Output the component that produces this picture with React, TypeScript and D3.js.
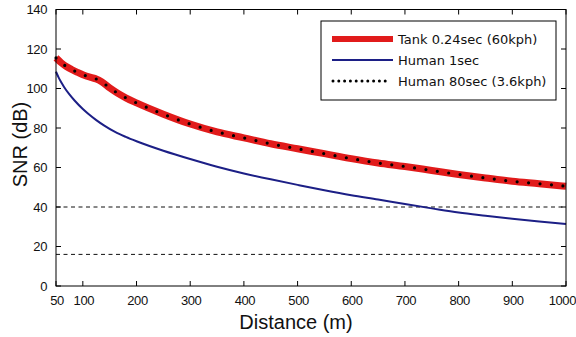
import React from "react";
import * as d3 from "d3";

// distances (m) sampled along each curve
const tankDistances = [
  50, 60, 70, 80, 90, 100, 115, 125, 135, 150, 165, 180, 200, 250, 300, 350,
  400, 450, 500, 550, 600, 650, 700, 750, 800, 850, 900, 950, 1000,
];
const tankSnr = [
  115.5, 113, 111, 109.5, 108.2, 107, 105.6, 104.8, 103.4, 100.3, 97.6, 95.3,
  92.7, 87, 82, 78, 75, 72, 69.5, 67, 64.5, 62.3, 60.5, 58.5, 56.5, 54.7, 53,
  51.8, 50.5,
];
const human80Snr = [
  115.5, 113, 111, 109.5, 108.2, 107, 105.6, 104.8, 103.4, 100.3, 97.6, 95.3,
  92.7, 87, 82, 78, 75, 72, 69.5, 67, 64.5, 62.3, 60.5, 58.5, 56.5, 54.7, 53,
  51.8, 50.5,
];
const humanDistances = [
  50, 55, 60, 65, 75, 85, 100, 110, 125, 140, 160, 180, 200, 250, 300, 350, 400,
  450, 500, 550, 600, 650, 700, 750, 800, 850, 900, 950, 1000,
];
const human1Snr = [
  108.5, 105.5, 103, 100.8, 97, 93.8, 89.6, 87.2, 84, 81.2, 78, 75.5, 73.3,
  68.5, 64.3, 60.4, 57, 54, 51.2, 48.5, 46, 43.8, 41.5, 39.3, 37.2, 35.6, 34.1,
  32.7, 31.4,
];
const thresholds = [40, 16];
const xTicks = [50, 100, 200, 300, 400, 500, 600, 700, 800, 900, 1000];
const yTicks = [0, 20, 40, 60, 80, 100, 120, 140];
const legendItems = [
  { label: "Tank 0.24sec (60kph)", kind: "tank" },
  { label: "Human 1sec", kind: "human1" },
  { label: "Human 80sec (3.6kph)", kind: "human80" },
];

const RED = "#e11b1b";
const BLUE = "#1c1f86";

export default function App() {
  const width = 576;
  const height = 337;
  const margin = { top: 9.5, right: 10, bottom: 51, left: 56 };
  const plotW = width - margin.left - margin.right;
  const plotH = height - margin.top - margin.bottom;

  const x = d3.scaleLinear().domain([50, 1000]).range([0, plotW]);
  const y = d3.scaleLinear().domain([0, 140]).range([plotH, 0]);

  const makeLine = (xs: number[]) =>
    d3
      .line<number>()
      .x((_, i) => x(xs[i]))
      .y((d) => y(d))
      .curve(d3.curveMonotoneX);

  const tankLine = makeLine(tankDistances);
  const humanLine = makeLine(humanDistances);

  const tickFont = "'Liberation Sans', Arial, sans-serif";

  return (
    <div style={{ position: "absolute", left: 0, top: 0 }}>
      <svg width={width} height={height} style={{ display: "block", background: "#fff" }}>
        <g transform={`translate(${margin.left},${margin.top})`}>
          {/* threshold lines */}
          {thresholds.map((t) => (
            <line
              key={t}
              x1={0}
              x2={plotW}
              y1={y(t)}
              y2={y(t)}
              stroke="#111"
              strokeWidth={1}
              strokeDasharray="4 3.5"
            />
          ))}

          {/* curves */}
          <path d={tankLine(tankSnr) ?? ""} fill="none" stroke={RED} strokeWidth={7} />
          <path d={humanLine(human1Snr) ?? ""} fill="none" stroke={BLUE} strokeWidth={2} />
          <path
            d={tankLine(human80Snr) ?? ""}
            fill="none"
            stroke="#000"
            strokeWidth={3.2}
            strokeLinecap="round"
            strokeDasharray="0 11.5"
          />

          {/* frame */}
          <rect x={0} y={0} width={plotW} height={plotH} fill="none" stroke="#000" strokeWidth={1} />

          {/* x ticks */}
          {xTicks.map((t, i) => {
            const last = i === xTicks.length - 1;
            return (
              <g key={t} transform={`translate(${x(t)},0)`}>
                <line y1={plotH} y2={plotH - 5} stroke="#000" />
                <line y1={0} y2={5} stroke="#000" />
                <text
                  x={last ? 10 : 1}
                  y={plotH + 19}
                  textAnchor={last ? "end" : "middle"}
                  fontFamily={tickFont}
                  fontSize={13}
                  letterSpacing={-0.4}
                  fill="#111"
                >
                  {t}
                </text>
              </g>
            );
          })}

          {/* y ticks */}
          {yTicks.map((t) => (
            <g key={t} transform={`translate(0,${y(t)})`}>
              <line x1={0} x2={5} stroke="#000" />
              <line x1={plotW} x2={plotW - 5} stroke="#000" />
              <text
                x={-9}
                dy="0.35em"
                textAnchor="end"
                fontFamily={tickFont}
                fontSize={13}
                letterSpacing={-0.4}
                fill="#111"
              >
                {t}
              </text>
            </g>
          ))}
        </g>

        {/* axis labels */}
        <text
          x={296}
          y={329}
          textAnchor="middle"
          fontFamily={tickFont}
          fontSize={20}
          fill="#111"
        >
          Distance (m)
        </text>
        <text
          transform="translate(27,144.5) rotate(-90)"
          textAnchor="middle"
          fontFamily={tickFont}
          fontSize={20}
          fill="#111"
        >
          SNR (dB)
        </text>

        {/* legend */}
        <g transform="translate(321,21)">
          <rect width={235} height={79} fill="#fff" stroke="#000" strokeWidth={1} />
          {legendItems.map((item, i) => {
            const cy = 18 + i * 21;
            return (
              <g key={item.label} transform={`translate(0,${cy})`}>
                {item.kind === "tank" && (
                  <line x1={11} x2={72} stroke={RED} strokeWidth={6} />
                )}
                {item.kind === "human1" && (
                  <line x1={11} x2={72} stroke={BLUE} strokeWidth={2} />
                )}
                {item.kind === "human80" && (
                  <line
                    x1={12}
                    x2={70}
                    stroke="#000"
                    strokeWidth={3}
                    strokeLinecap="round"
                    strokeDasharray="0 5.8"
                  />
                )}
                <text
                  x={77}
                  dy="0.35em"
                  fontFamily="'DejaVu Sans', sans-serif"
                  fontSize={13}
                  fill="#111"
                >
                  {item.label}
                </text>
              </g>
            );
          })}
        </g>
      </svg>
    </div>
  );
}
